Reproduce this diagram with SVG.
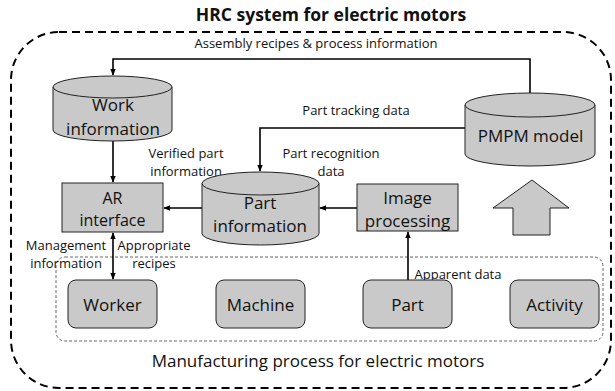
<svg xmlns="http://www.w3.org/2000/svg" width="615" height="391" viewBox="0 0 615 391">
<defs>
<style>
text{font-family:"Open Sans","Noto Sans","Liberation Sans",sans-serif;fill:#111;text-anchor:middle}
.t{font-size:17.5px;font-weight:bold}
.n{font-size:17px}
.m{font-size:16px}
.s{font-size:13px}
.big{font-size:17px}
.fill{fill:#c9c9c9;stroke:#222;stroke-width:1}
.c{fill:none;stroke:#000;stroke-width:1.6}
</style>
<marker id="ah" viewBox="0 0 10 10" refX="9" refY="5" markerWidth="7" markerHeight="7" orient="auto-start-reverse" markerUnits="userSpaceOnUse">
<path d="M0,1 L10,5 L0,9 z" fill="#000"/>
</marker>
</defs>
<rect width="615" height="391" fill="#fff"/>
<text class="t" x="331" y="21">HRC system for electric motors</text>
<rect x="11" y="32" width="600" height="356" rx="48" ry="48" fill="none" stroke="#000" stroke-width="2" stroke-dasharray="8,5"/>
<rect id="process-area" x="56" y="257" width="547" height="84" rx="9" ry="9" fill="none" stroke="#666" stroke-width="1" stroke-dasharray="3,2"/>
<text class="big" x="318" y="367">Manufacturing process for electric motors</text>

<g id="connectors">
<polyline class="c" points="530,93 530,59 113,59 113,75" marker-end="url(#ah)"/>
<polyline class="c" points="465,128 260,128 260,171" marker-end="url(#ah)"/>
<line class="c" x1="113" y1="141" x2="113" y2="182" marker-end="url(#ah)"/>
<line class="c" x1="202" y1="208" x2="164" y2="208" marker-end="url(#ah)"/>
<line class="c" x1="357" y1="208" x2="320" y2="208" marker-end="url(#ah)"/>
<line class="c" x1="113" y1="233" x2="113" y2="279" marker-start="url(#ah)" marker-end="url(#ah)"/>
<line class="c" x1="408" y1="280" x2="408" y2="232" marker-end="url(#ah)"/>
<text class="s" x="316" y="48">Assembly recipes &amp; process information</text>
<text class="s" x="356" y="115">Part tracking data</text>
<text class="s" x="186" y="158">Verified part</text>
<text class="s" x="186" y="176">information</text>
<text class="s" x="331" y="158">Part recognition</text>
<text class="s" x="331" y="176">data</text>
<text class="s" x="66" y="249.5">Management</text>
<text class="s" x="66" y="267.5">information</text>
<text class="s" x="154" y="249.5">Appropriate</text>
<text class="s" x="154" y="267.5">recipes</text>
<text class="s" x="458" y="279">Apparent data</text>
</g>

<g id="work-information">
<path class="fill" d="M53,87 L53,130 A59.5,11 0 0 0 172,130 L172,87 Z"/>
<ellipse class="fill" cx="112.5" cy="87" rx="59.5" ry="11"/>
<text class="n" x="113" y="111">Work</text>
<text class="n" x="113" y="135">information</text>
</g>

<g id="pmpm-model">
<path class="fill" d="M465,105 L465,154 A65,12 0 0 0 595,154 L595,105 Z"/>
<ellipse class="fill" cx="530" cy="105" rx="65" ry="12"/>
<text class="n" x="530.5" y="142">PMPM model</text>
</g>

<g id="ar-interface">
<rect class="fill" x="62" y="183" width="101" height="49"/>
<text class="m" x="112.5" y="204">AR</text>
<text class="m" x="112.5" y="226">interface</text>
</g>

<g id="part-information">
<path class="fill" d="M202,183.5 L202,233.5 A58.5,11.5 0 0 0 319,233.5 L319,183.5 Z"/>
<ellipse class="fill" cx="260.5" cy="183.5" rx="58.5" ry="11.5"/>
<text class="n" x="260" y="208.5">Part</text>
<text class="n" x="260" y="232">information</text>
</g>

<g id="image-processing">
<rect class="fill" x="357" y="184" width="101" height="47"/>
<text class="n" x="407.5" y="203.5">Image</text>
<text class="n" x="407.5" y="227">processing</text>
</g>

<g id="up-arrow">
<polygon class="fill" points="532,180 569,208 550,208 550,235 513,235 513,208 493,208"/>
</g>

<g id="worker">
<rect class="fill" x="68" y="280" width="89" height="48" rx="8" ry="8"/>
<text class="n" x="112.5" y="311">Worker</text>
</g>
<g id="machine">
<rect class="fill" x="216" y="280" width="89" height="48" rx="8" ry="8"/>
<text class="n" x="260.5" y="311">Machine</text>
</g>
<g id="part">
<rect class="fill" x="363" y="280" width="89" height="48" rx="8" ry="8"/>
<text class="n" x="407.5" y="311">Part</text>
</g>
<g id="activity">
<rect class="fill" x="510" y="280" width="89" height="48" rx="8" ry="8"/>
<text class="n" x="554.5" y="311">Activity</text>
</g>
</svg>
